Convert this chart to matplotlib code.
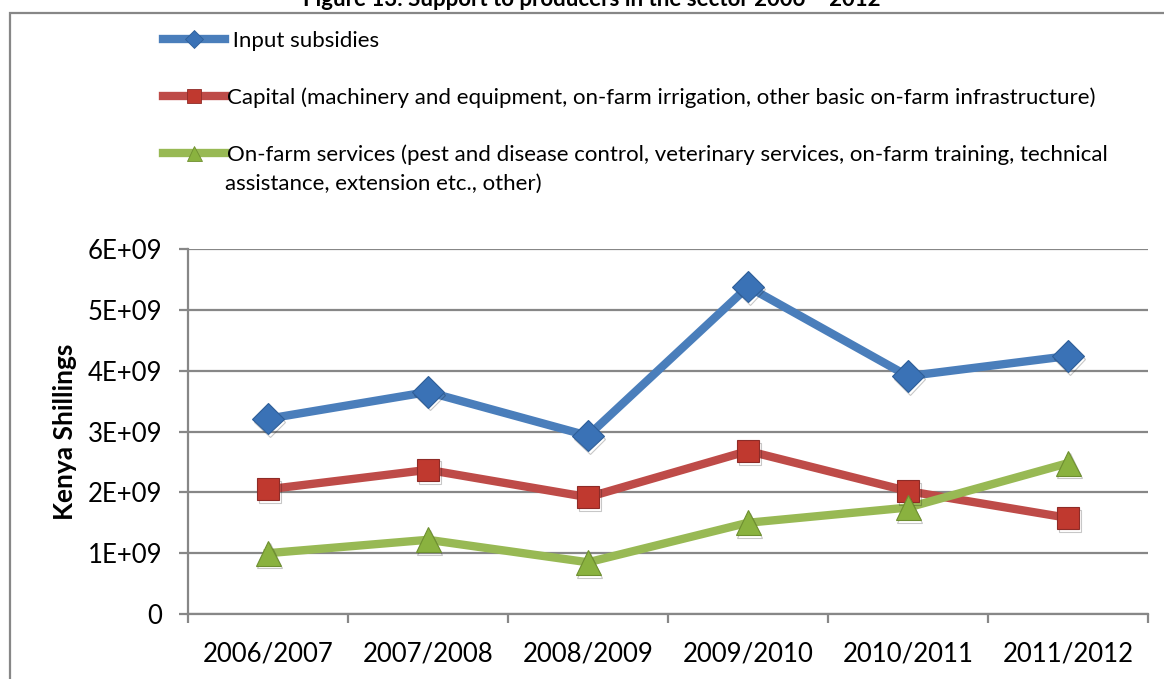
import matplotlib
matplotlib.use("Agg")
import matplotlib.pyplot as plt
import matplotlib.patheffects as pe
from matplotlib.lines import Line2D
from matplotlib.patches import Rectangle
from matplotlib.ticker import FixedLocator, FuncFormatter

# data (Kenya Shillings)
years = ["2006/2007", "2007/2008", "2008/2009", "2009/2010", "2010/2011", "2011/2012"]
input_subsidies = [3.21e9, 3.65e9, 2.93e9, 5.38e9, 3.91e9, 4.24e9]
capital = [2.05e9, 2.37e9, 1.92e9, 2.68e9, 2.02e9, 1.58e9]
on_farm_services = [1.0e9, 1.22e9, 0.85e9, 1.5e9, 1.75e9, 2.48e9]

labels = [
    " Input subsidies",
    "Capital (machinery and equipment, on-farm irrigation, other basic on-farm infrastructure)",
    "On-farm services (pest and disease control, veterinary services, on-farm training, technical",
]
label_cont = "assistance, extension etc., other)"
title = "Figure 13: Support to producers in the sector 2006 \u2013 2012"

plt.rcParams["font.family"] = ["Lato", "DejaVu Sans"]
GRID = "#878787"

fig = plt.figure(figsize=(11.64, 6.79), dpi=100)
ax = fig.add_axes([188 / 1164, 65 / 679, 960 / 1164, 365 / 679])

x = list(range(len(years)))
shadow = [pe.SimpleLineShadow(offset=(1.2, -2.0), alpha=0.22, shadow_color="black"), pe.Normal()]

series = [
    (input_subsidies, "#4A7EBB", "D", "#3A72B6", "#2E5E98", 16),
    (capital, "#BE4B48", "s", "#C0392F", "#8E2B27", 16),
    (on_farm_services, "#98B954", "^", "#8AB23F", "#6E8F30", 18),
]
handles = []
for vals, lc, mk, mfc, mec, ms in series:
    ax.plot(x, vals, color=lc, lw=6, solid_joinstyle="miter", zorder=3)
    ax.plot(x, vals, ls="none", marker=mk, markersize=ms, markerfacecolor=mfc,
            markeredgecolor=mec, markeredgewidth=0.8, path_effects=shadow, zorder=4)
    handles.append(Line2D([], [], color=lc, lw=6, marker=mk, markersize=ms * 0.6,
                          markerfacecolor=mfc, markeredgecolor=mec, markeredgewidth=0.6))

ax.set_xlim(-0.5, len(years) - 0.5)
ax.set_ylim(0, 6e9)
ax.set_yticks([i * 1e9 for i in range(7)])
ax.yaxis.set_major_formatter(FuncFormatter(lambda v, p: "0" if v == 0 else "%dE+09" % round(v / 1e9)))
ax.set_xticks(x)
ax.set_xticklabels(years)
ax.xaxis.set_minor_locator(FixedLocator([i - 0.5 for i in range(len(years) + 1)]))

ax.grid(axis="y", color=GRID, lw=1.6)
ax.set_axisbelow(True)
for s in ["top", "right"]:
    ax.spines[s].set_visible(False)
for s in ["left", "bottom"]:
    ax.spines[s].set_color(GRID)
    ax.spines[s].set_linewidth(1.6)

ax.tick_params(axis="y", length=6.5, width=1.6, color=GRID, labelsize=18.5, pad=12)
ax.tick_params(axis="x", which="major", length=0, labelsize=18.5, pad=20)
ax.tick_params(axis="x", which="minor", length=6.5, width=1.6, color=GRID)
ax.set_ylabel("Kenya Shillings", fontsize=19, fontweight="bold", labelpad=8)

fig.legend(handles, labels, loc="upper left", bbox_to_anchor=(163 / 1164, 1 - 31 / 679),
           frameon=False, fontsize=16, handlelength=2.8, handletextpad=0.1,
           labelspacing=1.63, borderpad=0, borderaxespad=0)
fig.text(225 / 1164, 1 - 184 / 679, label_cont, fontsize=16, va="center", ha="left")

fig.text(592 / 1164, 1 - 6 / 679, title, fontsize=16, fontweight="bold", ha="center", va="baseline")
fig.patches.append(Rectangle((10 / 1164, -0.1), 1.2, 1.1 - 13 / 679, transform=fig.transFigure,
                             fill=False, edgecolor=GRID, lw=1.6))

fig.savefig("out.png", dpi=100)
